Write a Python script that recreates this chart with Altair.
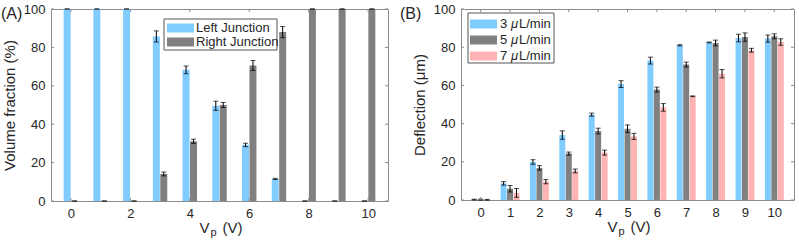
import json

import altair as alt
import pandas as pd

# ---------------- data ----------------
volts = list(range(11))

# (A) volume fraction at each junction (%)
left_frac = [100, 100, 100, 85.7, 68.3, 49.6, 29.2, 11.5, 0, 0, 0]
left_err = [0, 0, 0, 2.9, 2.0, 2.4, 0.9, 0.3, 0, 0, 0]
right_frac = [0, 0, 0, 14.1, 31.1, 50.0, 70.6, 88.0, 100, 100, 100]
right_err = [0, 0, 0, 1.0, 1.1, 1.3, 2.6, 2.9, 0, 0, 0]

# (B) deflection (um) for three flow rates
defl_3 = [0.2, 8.7, 19.9, 34.0, 44.7, 60.7, 73.0, 81.0, 82.5, 84.8, 84.5]
err_3 = [0.2, 0.9, 1.2, 2.2, 0.8, 1.8, 1.8, 0.3, 0.2, 2.0, 1.9]
defl_5 = [0.2, 5.9, 16.8, 24.3, 36.1, 37.3, 57.8, 70.9, 82.2, 85.3, 85.7]
err_5 = [0.3, 1.7, 1.2, 0.8, 1.5, 2.0, 1.3, 1.3, 1.5, 2.2, 1.3]
defl_7 = [0.1, 3.7, 9.6, 15.2, 24.8, 33.3, 48.5, 54.3, 66.1, 78.4, 82.7]
err_7 = [0.2, 2.3, 1.1, 1.0, 1.3, 1.6, 2.0, 0.2, 2.2, 1.0, 1.7]

series_a = ["Left Junction", "Right Junction"]
series_b = ["3", "5", "7"]
colors_a = ["#80CCFF", "#808080"]
colors_b = ["#80CCFF", "#808080", "#FFB3B3"]

y_ticks = [0, 20, 40, 60, 80, 100]
x_labels_a = [0, 2, 4, 6, 8, 10]
x_labels_b = volts

FONT = "Liberation Sans"
TXT = "#262626"
FRAME = "#8c8c8c"


def long_table(names, values, errors):
    rows = []
    for name, vals, errs in zip(names, values, errors):
        for v, val, e in zip(volts, vals, errs):
            rows.append({"V": v, "series": name, "value": val,
                         "lo": val - e, "hi": val + e})
    return pd.DataFrame(rows)


def panel(df, names, colors, w, h, group_step, bar_w, y_title, x_vals,
          letter, letter_dx, legend_box, legend_rows, cap=5):
    x_scale = alt.Scale(domain=[-0.5, 10.5], nice=False, zero=False)
    x_axis = alt.Axis(values=x_vals, format="d", labelAngle=0, tickSize=0,
                      domain=False, grid=False, labelPadding=6, title=None,
                      labelFontSize=13, labelFont=FONT, labelColor=TXT)
    y_scale = alt.Scale(domain=[0, 100], nice=False)
    y_axis = alt.Axis(values=y_ticks, tickSize=0, domain=False, grid=False,
                      labelPadding=6, labelFontSize=13, labelFont=FONT,
                      labelColor=TXT, title=y_title, titleFont=FONT,
                      titleFontSize=15, titleFontWeight="normal",
                      titleColor=TXT, titlePadding=6)

    def X(field):
        return alt.X(field, scale=x_scale, axis=x_axis)

    def Y(field):
        return alt.Y(field, scale=y_scale, axis=y_axis)

    color = alt.Color("series:N", scale=alt.Scale(domain=names, range=colors),
                      legend=None)

    # bars of one group sit side by side around the voltage value
    centre = (len(names) - 1) / 2
    base = alt.Chart(df).transform_calculate(
        xpos=f"datum.V + {group_step} * (indexof({json.dumps(names)}, datum.series) - {centre})"
    )
    bars = base.mark_bar(width=bar_w).encode(
        x=X("xpos:Q"), y=Y("value:Q"), y2=alt.datum(0), color=color)
    stems = base.mark_rule(color="black", strokeWidth=1).encode(
        x=X("xpos:Q"), y=Y("lo:Q"), y2="hi:Q")
    cap_hi = base.mark_tick(color="black", thickness=1, size=cap,
                            orient="horizontal").encode(x=X("xpos:Q"), y=Y("hi:Q"))
    cap_lo = base.mark_tick(color="black", thickness=1, size=cap,
                            orient="horizontal").encode(x=X("xpos:Q"), y=Y("lo:Q"))

    # inward ticks on all four sides of the box
    xt = alt.Chart(pd.DataFrame({"V": x_vals}))
    tick_bot = xt.mark_rule(color=FRAME).encode(x=X("V:Q"), y=alt.value(h), y2=alt.value(h - 3))
    tick_top = xt.mark_rule(color=FRAME).encode(x=X("V:Q"), y=alt.value(0), y2=alt.value(3))
    yt = alt.Chart(pd.DataFrame({"value": y_ticks}))
    tick_l = yt.mark_rule(color=FRAME).encode(y=Y("value:Q"), x=alt.value(0), x2=alt.value(3))
    tick_r = yt.mark_rule(color=FRAME).encode(y=Y("value:Q"), x=alt.value(w - 3), x2=alt.value(w))

    one = alt.Chart(pd.DataFrame({"k": [0]}))
    layers = [bars, stems, cap_hi, cap_lo, tick_bot, tick_top, tick_l, tick_r]

    # panel letter
    layers.append(one.mark_text(text=letter, font=FONT, fontSize=16, color=TXT,
                                align="left", baseline="middle").encode(
        x=alt.value(letter_dx), y=alt.value(5)))

    # x-axis title V_p (V)
    cx = w / 2
    layers.append(one.mark_text(text="V", font=FONT, fontSize=15, color=TXT,
                                align="left", baseline="middle").encode(
        x=alt.value(cx - 20), y=alt.value(h + 27)))
    layers.append(one.mark_text(text="p", font=FONT, fontSize=11, color=TXT,
                                align="left", baseline="middle").encode(
        x=alt.value(cx - 9), y=alt.value(h + 32)))
    layers.append(one.mark_text(text="(V)", font=FONT, fontSize=15, color=TXT,
                                align="left", baseline="middle").encode(
        x=alt.value(cx + 3), y=alt.value(h + 27)))

    # legend box
    bx0, by0, bx1, by1 = legend_box
    layers.append(one.mark_rect(fill="white", stroke="#555555", strokeWidth=1).encode(
        x=alt.value(bx0), x2=alt.value(bx1), y=alt.value(by0), y2=alt.value(by1)))
    for (sx, sy, parts), col in zip(legend_rows, colors):
        layers.append(one.mark_rect(fill=col).encode(
            x=alt.value(sx), x2=alt.value(sx + 27),
            y=alt.value(sy - 4.5), y2=alt.value(sy + 4.5)))
        for dx, txt, style in parts:
            layers.append(one.mark_text(text=txt, font=FONT, fontSize=13, color=TXT,
                                        fontStyle=style, align="left",
                                        baseline="middle").encode(
                x=alt.value(sx + dx), y=alt.value(sy)))

    return alt.layer(*layers).properties(width=w, height=h)


df_a = long_table(series_a, [left_frac, right_frac], [left_err, right_err])
df_b = long_table(series_b, [defl_3, defl_5, defl_7], [err_3, err_5, err_7])

legend_a_rows = [
    (116, 19, [(29, "Left Junction", "normal")]),
    (116, 33, [(29, "Right Junction", "normal")]),
]
legend_b_rows = [
    (9, 15 + 16 * i, [(30, s, "normal"), (41, "\u03bc", "italic"), (49, "L/min", "normal")])
    for i, s in enumerate(series_b)
]

chart_a = panel(df_a, series_a, colors_a, 337, 192, 0.25, 7,
                "Volume fraction (%)", x_labels_a, "(A)", -50,
                (113, 10, 226, 41), legend_a_rows)
chart_b = panel(df_b, series_b, colors_b, 333, 191, 0.22, 6,
                "Deflection (\u03bcm)", x_labels_b, "(B)", -61,
                (7, 4, 93, 54), legend_b_rows)

chart = (
    alt.hconcat(chart_a, chart_b, spacing=10)
    .resolve_scale(color="independent")
    .configure(padding={"left": 0, "top": 2, "right": 0, "bottom": 0},
               background="white")
    .configure_view(stroke=FRAME, strokeWidth=1)
)

chart.save("out.html", embed_options={"renderer": "svg", "actions": False})
